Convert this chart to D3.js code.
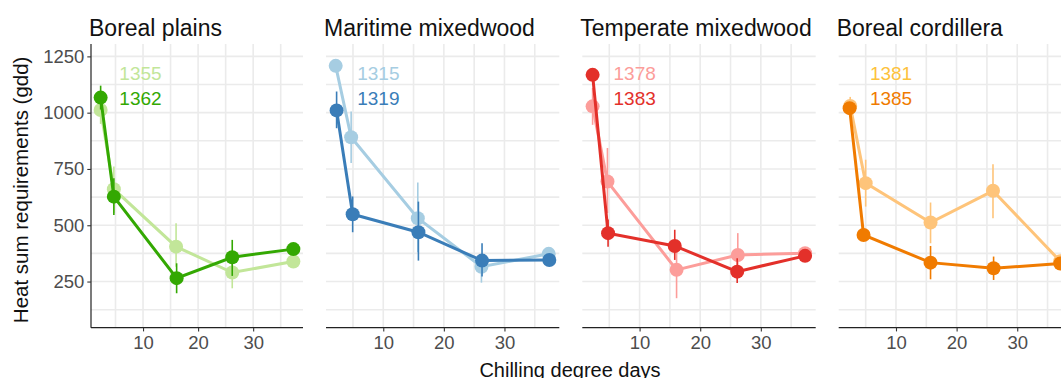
<!DOCTYPE html>
<html>
<head>
<meta charset="utf-8">
<script src="https://cdn.jsdelivr.net/npm/d3@7"></script>
<style>
  body { margin: 0; background: #fff; }
  svg { font-family: "Liberation Sans", Arial, sans-serif; display: block; }
</style>
</head>
<body>
<div id="chart"></div>
<script>
// DATA
var panels = ["Boreal plains", "Maritime mixedwood", "Temperate mixedwood", "Boreal cordillera"];
var seriesLabels = [["1355", "1362"], ["1315", "1319"], ["1378", "1383"], ["1381", "1385"]];

// chilling degree days, light (first) series and dark (second) series
var chillLight = [
  [2.3, 4.7, 16.0, 26.2, 37.3],
  [2.15, 4.7, 15.7, 26.2, 37.3],
  [2.25, 4.7, 16.1, 26.2, 37.3],
  [2.45, 5.0, 15.7, 26.0, 37.1]
];
var chillDark = [
  [2.3, 4.7, 16.1, 26.2, 37.3],
  [2.3, 4.95, 15.8, 26.3, 37.4],
  [2.25, 4.8, 15.8, 26.1, 37.3],
  [2.35, 4.65, 15.7, 26.1, 37.1]
];

// heat sum requirements (gdd)
var gddLight = [
  [1012, 660, 405, 290, 339],
  [1208, 891, 531, 316, 373],
  [1028, 694, 302, 368, 376],
  [1030, 687, 512, 653, 340]
];
var gddDark = [
  [1067, 627, 265, 358, 394],
  [1010, 549, 469, 343, 346],
  [1168, 465, 408, 294, 364],
  [1020, 457, 334, 309, 330]
];

// error bar ends
var lowLight = [
  [950, 554, 316, 220, 320],
  [1180, 776, 380, 245, 355],
  [946, 554, 176, 270, 360],
  [990, 583, 420, 531, 320]
];
var highLight = [
  [1065, 761, 509, 360, 358],
  [1236, 1005, 690, 345, 391],
  [1110, 843, 415, 465, 392],
  [1070, 791, 601, 771, 360]
];
var lowDark = [
  [1014, 546, 198, 275, 375],
  [931, 469, 343, 272, 330],
  [1140, 405, 346, 243, 348],
  [995, 430, 260, 257, 312]
];
var highDark = [
  [1120, 709, 331, 435, 413],
  [1094, 628, 605, 420, 362],
  [1196, 525, 480, 354, 380],
  [1045, 484, 408, 361, 348]
];

var xTicks = [10, 20, 30];
var xMinor = [5, 15, 25, 35];
var yTicks = [250, 500, 750, 1000, 1250];
var yMinor = [125, 375, 625, 875, 1125];

var lightColors = ["#c2e699", "#a6cde2", "#fc9d9a", "#fec47a"];
var darkColors  = ["#33a802", "#3a7db8", "#e3302a", "#f07b00"];
var lightText   = ["#c2e699", "#a6cde2", "#fc9d9a", "#fdc23c"];

drawChart();

function drawChart() {
  // LAYOUT
  var width = 1061, height = 378;
  var panelLeft  = [91, 326, 582.3, 838.7];
  var panelWidth = [212, 233.3, 233.4, 233.4];
  var panelTop = 44, panelBottom = 327.7;
  var font = "Liberation Sans, Arial, sans-serif";

  var svg = d3.select("#chart").append("svg")
      .attr("width", width)
      .attr("height", height);

  var y = d3.scaleLinear().domain([45, 1305]).range([panelBottom, panelTop]);

  panels.forEach(function(name, i) {
    var x = d3.scaleLinear()
        .domain([0.55, 39.05])
        .range([panelLeft[i], panelLeft[i] + panelWidth[i]]);

    var g = svg.append("g");

    // grid
    g.selectAll(null).data(xMinor.concat(xTicks)).enter().append("line")
        .attr("x1", d => x(d)).attr("x2", d => x(d))
        .attr("y1", panelTop).attr("y2", panelBottom)
        .style("stroke", "#ebebeb").style("stroke-width", 1.6);
    g.selectAll(null).data(yMinor.concat(yTicks)).enter().append("line")
        .attr("x1", x.range()[0]).attr("x2", x.range()[1])
        .attr("y1", d => y(d)).attr("y2", d => y(d))
        .style("stroke", "#ebebeb").style("stroke-width", 1.6);

    // x axis
    var xAxis = g.append("g")
        .attr("transform", "translate(0," + panelBottom + ")")
        .call(d3.axisBottom(x).tickValues(xTicks).tickSize(3.7).tickPadding(4.5));
    xAxis.select(".domain").attr("d", "M" + x.range()[0] + ",0H" + x.range()[1])
        .style("stroke", "#222").style("stroke-width", 1.2);
    xAxis.selectAll(".tick line").style("stroke", "#333").style("stroke-width", 1.1);
    xAxis.selectAll("text").style("font-size", "18.5px").style("fill", "#4d4d4d")
        .style("font-family", font);

    // y axis only on the first panel
    if (i === 0) {
      var yAxis = g.append("g")
          .attr("transform", "translate(" + panelLeft[i] + ",0)")
          .call(d3.axisLeft(y).tickValues(yTicks).tickFormat(d3.format("d")).tickSize(3.7).tickPadding(3));
      yAxis.select(".domain").attr("d", "M0," + panelTop + "V" + panelBottom)
          .style("stroke", "#222").style("stroke-width", 1.2);
      yAxis.selectAll(".tick line").style("stroke", "#333").style("stroke-width", 1.1);
      yAxis.selectAll("text").style("font-size", "18.5px").style("fill", "#4d4d4d")
          .style("font-family", font);
    }

    // panel title
    g.append("text")
        .attr("x", panelLeft[i] - 2)
        .attr("y", 35.5)
        .style("font-size", "23px")
        .style("fill", "#111")
        .text(name);

    // series: light first, then dark on top
    var series = [
      {xs: chillLight[i], ys: gddLight[i], lo: lowLight[i], hi: highLight[i], color: lightColors[i]},
      {xs: chillDark[i],  ys: gddDark[i],  lo: lowDark[i],  hi: highDark[i],  color: darkColors[i]}
    ];

    series.forEach(function(s) {
      var pts = s.xs.map((v, k) => ({x: v, y: s.ys[k], lo: s.lo[k], hi: s.hi[k]}));

      g.selectAll(null).data(pts).enter().append("line")
          .attr("x1", d => x(d.x)).attr("x2", d => x(d.x))
          .attr("y1", d => y(d.lo)).attr("y2", d => y(d.hi))
          .style("stroke", s.color).style("stroke-width", 1.6);

      g.append("path")
          .datum(pts)
          .attr("d", d3.line().x(d => x(d.x)).y(d => y(d.y)))
          .style("fill", "none")
          .style("stroke", s.color)
          .style("stroke-width", 3);

      g.selectAll(null).data(pts).enter().append("circle")
          .attr("cx", d => x(d.x)).attr("cy", d => y(d.y))
          .attr("r", 7)
          .style("fill", s.color);
    });

    // series labels
    g.append("text")
        .attr("x", x(5.7)).attr("y", y(1175))
        .attr("dominant-baseline", "central")
        .style("font-size", "19px").style("fill", lightText[i])
        .text(seriesLabels[i][0]);
    g.append("text")
        .attr("x", x(5.7)).attr("y", y(1065))
        .attr("dominant-baseline", "central")
        .style("font-size", "19px").style("fill", darkColors[i])
        .text(seriesLabels[i][1]);
  });

  // axis titles
  svg.append("text")
      .attr("transform", "translate(28," + ((panelTop + panelBottom) / 2 + 4) + ") rotate(-90)")
      .attr("text-anchor", "middle")
      .style("font-size", "20.5px")
      .style("fill", "#111")
      .text("Heat sum requirements (gdd)");

  svg.append("text")
      .attr("x", 570)
      .attr("y", 377)
      .attr("text-anchor", "middle")
      .style("font-size", "20px")
      .style("fill", "#111")
      .text("Chilling degree days");
}
</script>
</body>
</html>
